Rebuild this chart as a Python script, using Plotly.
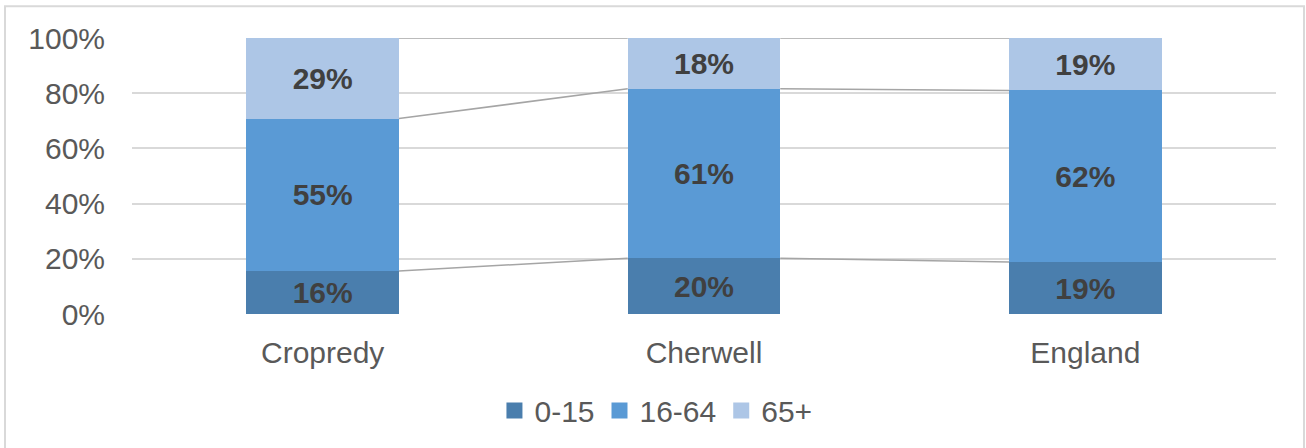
import plotly.graph_objects as go

categories = ["Cropredy", "Cherwell", "England"]
age_groups = ["0-15", "16-64", "65+"]
share_0_15 = [15.6, 20.2, 18.8]
share_16_64 = [55.2, 61.4, 62.2]
share_65_plus = [29.2, 18.4, 19.0]
series_values = [share_0_15, share_16_64, share_65_plus]
colors = ["#4A7EAD", "#5A9AD5", "#ADC6E6"]
y_tick_vals = [0, 20, 40, 60, 80, 100]
y_tick_text = ["0%", "20%", "40%", "60%", "80%", "100%"]

BAR_W = 0.4
FONT = "Liberation Sans, Arial, sans-serif"
xs = list(range(len(categories)))

fig = go.Figure()

# stacked bars
for name, vals, col in zip(age_groups, series_values, colors):
    fig.add_trace(go.Bar(
        x=xs, y=vals, name=name, width=BAR_W,
        marker=dict(color=col, line=dict(width=0)),
        text=[f"{round(v)}%" for v in vals],
        textposition="inside", insidetextanchor="middle",
        textangle=0, constraintext="none",
        textfont=dict(family=FONT, size=30, color="#404040", weight="bold"),
        showlegend=False, hoverinfo="skip",
    ))

# series lines connecting the tops of each segment
cum = [0.0] * len(categories)
for vals in series_values:
    cum = [c + v for c, v in zip(cum, vals)]
    for i in range(len(categories) - 1):
        fig.add_trace(go.Scatter(
            x=[xs[i] + BAR_W / 2, xs[i + 1] - BAR_W / 2],
            y=[cum[i], cum[i + 1]],
            mode="lines", line=dict(color="#A5A5A5", width=1.5),
            showlegend=False, hoverinfo="skip",
        ))

# legend entries
for name, col in zip(age_groups, colors):
    fig.add_trace(go.Scatter(
        x=[None], y=[None], mode="markers", name=name,
        marker=dict(symbol="square", size=16, color=col),
    ))

# outer chart border
fig.add_shape(type="rect", xref="paper", yref="paper",
              x0=-0.111, x1=1.0245, y0=-0.6, y1=1.115,
              line=dict(color="#D9D9D9", width=2), layer="below")

fig.update_layout(
    width=1306, height=448,
    margin=dict(l=132, r=30, t=38, b=132),
    paper_bgcolor="white", plot_bgcolor="white",
    barmode="stack",
    font=dict(family=FONT, color="#595959", size=30),
    xaxis=dict(
        tickmode="array", tickvals=xs, ticktext=categories,
        range=[-0.5, 2.5], showgrid=False, zeroline=False,
        showline=False, ticks="", ticklabelstandoff=18,
        tickfont=dict(family=FONT, size=30, color="#595959"),
    ),
    yaxis=dict(
        tickmode="array", tickvals=y_tick_vals, ticktext=y_tick_text,
        range=[0, 100], showgrid=True, gridcolor="#D9D9D9", gridwidth=1.5,
        zeroline=False, showline=False, ticks="", ticklabelstandoff=26,
        tickfont=dict(family=FONT, size=30, color="#595959"),
    ),
    legend=dict(
        orientation="h", x=0.458, xanchor="center",
        y=-0.35, yanchor="middle", traceorder="normal",
        font=dict(family=FONT, size=30, color="#595959"),
        itemwidth=30, tracegroupgap=0, bgcolor="rgba(0,0,0,0)",
    ),
)

fig.write_html("out.html")
